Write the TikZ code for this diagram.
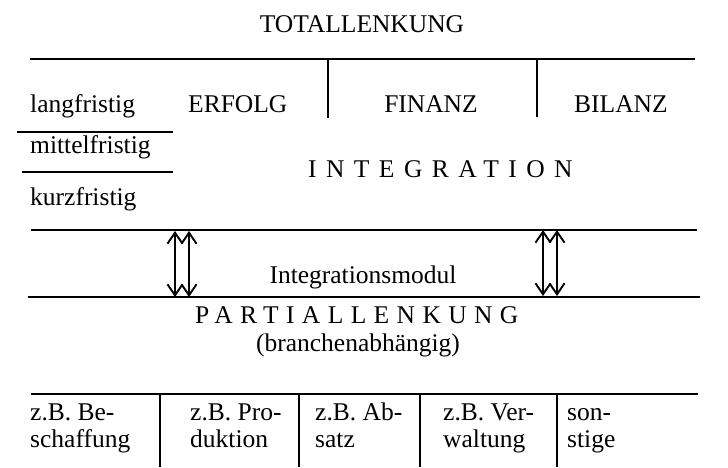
\documentclass[tikz,border=0pt]{standalone}
\usepackage{fontspec}
\setmainfont{Liberation Serif}
\usetikzlibrary{arrows.meta}
\newfontfamily\spacedA[LetterSpace=37]{Liberation Serif}
\newfontfamily\spacedB[LetterSpace=29]{Liberation Serif}
\begin{document}
\begin{tikzpicture}[x=1pt,y=-1pt,
  txt/.style={inner sep=0pt,font=\fontsize{25.5}{27}\selectfont},
  thinline/.style={line width=1.1pt},
  thickline/.style={line width=1.7pt},
  divider/.style={line width=1.8pt},
  dblarrow/.style={line width=1.6pt,{Straight Barb[length=11pt,width=15pt,line width=1.9pt]}-{Straight Barb[length=11pt,width=15pt,line width=1.9pt]}}
]
\useasboundingbox (0,0) rectangle (728,467);
% title
\node[txt,anchor=base] (total) at (362,32) {TOTALLENKUNG};
% top line and dividers
\coordinate (tl) at (30,59); \coordinate (tr) at (695,59);
\draw[thinline] (tl) -- (tr);
\coordinate (d1t) at (328,59); \coordinate (d1b) at (328,118);
\coordinate (d2t) at (537,59); \coordinate (d2b) at (537,117);
\draw[divider] (d1t) -- (d1b);
\draw[divider] (d2t) -- (d2b);
% row labels
\node[txt,anchor=base west] (lang) at (30,112) {langfristig};
\node[txt,anchor=base west] (erfolg) at (188,112) {ERFOLG};
\node[txt,anchor=base] (finanz) at (431,112) {FINANZ};
\node[txt,anchor=base west] (bilanz) at (574,112) {BILANZ};
\coordinate (l1a) at (17,132); \coordinate (l1b) at (173,132);
\draw[thickline] (l1a) -- (l1b);
\node[txt,anchor=base west] (mittel) at (30,153) {mittelfristig};
\coordinate (l2a) at (22,172); \coordinate (l2b) at (173,172);
\draw[thickline] (l2a) -- (l2b);
\node[txt,anchor=base west] (integ) at (308,177) {\spacedA INTEGRATION};
\node[txt,anchor=base west] (kurz) at (30,205) {kurzfristig};
% module lines
\coordinate (m1a) at (31,230); \coordinate (m1b) at (697,230);
\coordinate (m2a) at (28,297); \coordinate (m2b) at (700,297);
\draw[thinline] (m1a) -- (m1b);
\draw[thickline] (m2a) -- (m2b);
\node[txt,anchor=base] (modul) at (363,283) {Integrationsmodul};
% arrows
\coordinate (a1t) at (175,231); \coordinate (a1b) at (175,297);
\coordinate (a2t) at (189,231); \coordinate (a2b) at (189,297);
\coordinate (a3t) at (543,230); \coordinate (a3b) at (543,296);
\coordinate (a4t) at (557,230); \coordinate (a4b) at (557,296);
\draw[dblarrow] (a1t) -- (a1b);
\draw[dblarrow] (a2t) -- (a2b);
\draw[dblarrow] (a3t) -- (a3b);
\draw[dblarrow] (a4t) -- (a4b);
% partial
\node[txt,anchor=base west] (partial) at (195,323) {\spacedB PARTIALLENKUNG};
\node[txt,anchor=base] (branche) at (358,351) {(branchenabhängig)};
% bottom table
\coordinate (b1a) at (31,394); \coordinate (b1b) at (698,394);
\draw[thinline] (b1a) -- (b1b);
\foreach \x/\n in {160/v1,299/v2,420/v3,557/v4}{
  \coordinate (\n t) at (\x,394); \coordinate (\n b) at (\x,467);
  \draw[divider] (\n t) -- (\n b);
}
\node[txt,anchor=base west] (c1a) at (30,420) {z.B. Be-};
\node[txt,anchor=base west] (c1b) at (30,447) {schaffung};
\node[txt,anchor=base west] (c2a) at (190,420) {z.B. Pro-};
\node[txt,anchor=base west] (c2b) at (190,447) {duktion};
\node[txt,anchor=base west] (c3a) at (315,420) {z.B. Ab-};
\node[txt,anchor=base west] (c3b) at (315,447) {satz};
\node[txt,anchor=base west] (c4a) at (443,420) {z.B. Ver-};
\node[txt,anchor=base west] (c4b) at (443,447) {waltung};
\node[txt,anchor=base west] (c5a) at (567,420) {son-};
\node[txt,anchor=base west] (c5b) at (567,447) {stige};
\end{tikzpicture}
\end{document}
